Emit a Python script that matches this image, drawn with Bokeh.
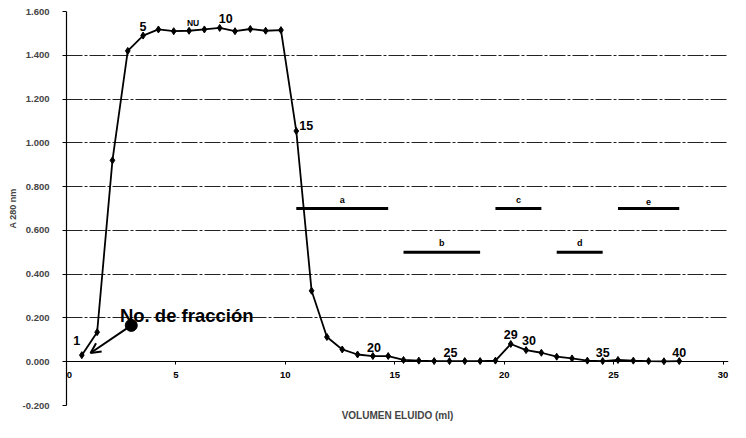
from bokeh.plotting import figure
from bokeh.models import (ColumnDataSource, FixedTicker, NumeralTickFormatter, Arrow,
                          OpenHead, Title, Label, LabelSet)
from bokeh.core.properties import value
from bokeh.embed import file_html
from bokeh.resources import INLINE

# ---- data ----
fraction = list(range(1, 41))
volume = [0.7, 1.4, 2.1, 2.8, 3.5, 4.2, 4.9, 5.6, 6.3, 7.0,
          7.7, 8.4, 9.1, 9.8, 10.5, 11.2, 11.9, 12.6, 13.3, 14.0,
          14.7, 15.4, 16.1, 16.8, 17.5, 18.2, 18.9, 19.6, 20.3, 21.0,
          21.7, 22.4, 23.1, 23.8, 24.5, 25.2, 25.9, 26.6, 27.3, 28.0]
absorbance = [0.030, 0.135, 0.920, 1.420, 1.490, 1.518, 1.510, 1.512, 1.518, 1.525,
              1.510, 1.520, 1.512, 1.515, 1.054, 0.324, 0.113, 0.056, 0.033, 0.026,
              0.026, 0.008, 0.005, 0.003, 0.003, 0.003, 0.003, 0.005, 0.081, 0.053,
              0.041, 0.023, 0.015, 0.005, 0.003, 0.008, 0.005, 0.003, 0.002, 0.003]

label_fraction = [1, 5, 8, 10, 15, 20, 25, 29, 30, 35, 40]
label_text = ["1", "5", "NU", "10", "15", "20", "25", "29", "30", "35", "40"]

pool_name = ["a", "b", "c", "d", "e"]
pool_start = [10.5, 15.4, 19.6, 22.4, 25.2]
pool_end = [14.7, 18.9, 21.7, 24.5, 28.0]
pool_level = [0.70, 0.50, 0.70, 0.50, 0.70]

x_ticks = [0, 5, 10, 15, 20, 25, 30]
x_tick_labels = ["0", "5", "10", "15", "20", "25", "30"]
y_ticks = [-0.2, 0.0, 0.2, 0.4, 0.6, 0.8, 1.0, 1.2, 1.4, 1.6]

FONT = "Liberation Sans"

p = figure(width=730, height=422, x_range=(0, 30.25), y_range=(-0.2, 1.6),
           output_backend="svg", toolbar_location=None,
           min_border_left=66, min_border_right=2, min_border_top=11, min_border_bottom=0)
p.outline_line_color = None
p.background_fill_color = "white"

# grid
p.xgrid.grid_line_color = None
p.ygrid.ticker = FixedTicker(ticks=y_ticks)
p.ygrid.grid_line_color = "#222222"
p.ygrid.grid_line_dash = "16 2 3 2"
p.ygrid.grid_line_width = 1

# y axis
p.yaxis.ticker = FixedTicker(ticks=y_ticks)
p.yaxis.formatter = NumeralTickFormatter(format="0.000")
p.yaxis.axis_label = "A 280 nm"
p.yaxis.axis_label_text_font = FONT
p.yaxis.axis_label_text_font_style = "bold"
p.yaxis.axis_label_text_font_size = "9px"
p.yaxis.axis_label_standoff = 2
p.yaxis.major_label_text_font = FONT
p.yaxis.major_label_text_font_style = "bold"
p.yaxis.major_label_text_font_size = "9.5px"
p.yaxis.major_label_standoff = 13
p.yaxis.major_tick_out = 4
p.yaxis.major_tick_in = 0
p.yaxis.minor_tick_line_color = None
p.yaxis.axis_line_color = "black"
p.yaxis.axis_line_width = 1.2

# x axis drawn at y = 0 (line and ticks); its labels are placed by a LabelSet
p.xaxis.fixed_location = 0
p.xaxis.ticker = FixedTicker(ticks=x_ticks)
p.xaxis.major_label_text_color = None
p.xaxis.major_tick_out = 3
p.xaxis.major_tick_in = 0
p.xaxis.minor_tick_line_color = None
p.xaxis.axis_line_color = "black"

tsrc = ColumnDataSource(dict(x=x_ticks, y=[0] * len(x_ticks), t=x_tick_labels,
                             xo=[3 if t == "0" else 0 for t in x_tick_labels]))
p.add_layout(LabelSet(x="x", y="y", text="t", source=tsrc, x_offset="xo", y_offset=-10,
                      text_font=value(FONT), text_font_style="bold", text_font_size="9.5px",
                      text_align="center", text_baseline="top", text_color="black"))

p.add_layout(Title(text="VOLUMEN ELUIDO (ml)", align="center", text_font=FONT,
                   text_font_style="bold", text_font_size="10px", standoff=4), "below")

# curve
src = ColumnDataSource(dict(x=volume, y=absorbance, f=fraction))
p.line("x", "y", source=src, line_color="black", line_width=1.8)
p.scatter("x", "y", source=src, marker="diamond", size=7, color="black")

# fraction labels
lx_off = {"1": -5, "5": 0, "NU": 4, "10": 6, "15": 10, "20": 1, "25": 1, "29": 0, "30": 3, "35": 0, "40": 0}
ly_off = {"1": -15, "5": -9, "NU": -8, "10": -9, "15": -6, "20": -9, "25": -9, "29": -9, "30": -10, "35": -9, "40": -9}
lsrc = ColumnDataSource(dict(
    x=[volume[f - 1] for f in label_fraction],
    y=[absorbance[f - 1] for f in label_fraction],
    t=label_text,
    xo=[lx_off[t] for t in label_text],
    yo=[ly_off[t] for t in label_text],
    fs=["8.5px" if t == "NU" else "12.5px" for t in label_text],
))
p.text("x", "y", text="t", source=lsrc, x_offset="xo", y_offset="yo",
       text_font=value(FONT), text_font_style="bold", text_font_size="fs",
       text_align="center", text_baseline="middle", text_color="black")

# pooled fraction bars
psrc = ColumnDataSource(dict(x0=pool_start, x1=pool_end, y=pool_level, name=pool_name,
                             xc=[(a + b) / 2 for a, b in zip(pool_start, pool_end)]))
p.segment(x0="x0", y0="y", x1="x1", y1="y", source=psrc, line_color="black", line_width=3)
p.text("xc", "y", text="name", source=psrc, y_offset=-4,
       text_font=value(FONT), text_font_style="bold", text_font_size="9px",
       text_align="center", text_baseline="bottom", text_color="black")

# annotation "No. de fracción"
p.add_layout(Label(x=2.44, y=0.21, text="No. de fracción", text_font=FONT,
                   text_font_style="bold", text_font_size="18.5px", text_color="black",
                   text_baseline="alphabetic"))
p.add_layout(Arrow(end=OpenHead(size=10, line_width=2, line_color="black"),
                   x_start=2.96, y_start=0.166, x_end=1.1, y_end=0.04,
                   line_width=2, line_color="black"))
p.scatter([2.96], [0.166], marker="circle", size=12, color="black")

open("out.html", "w").write(file_html(p, INLINE))
